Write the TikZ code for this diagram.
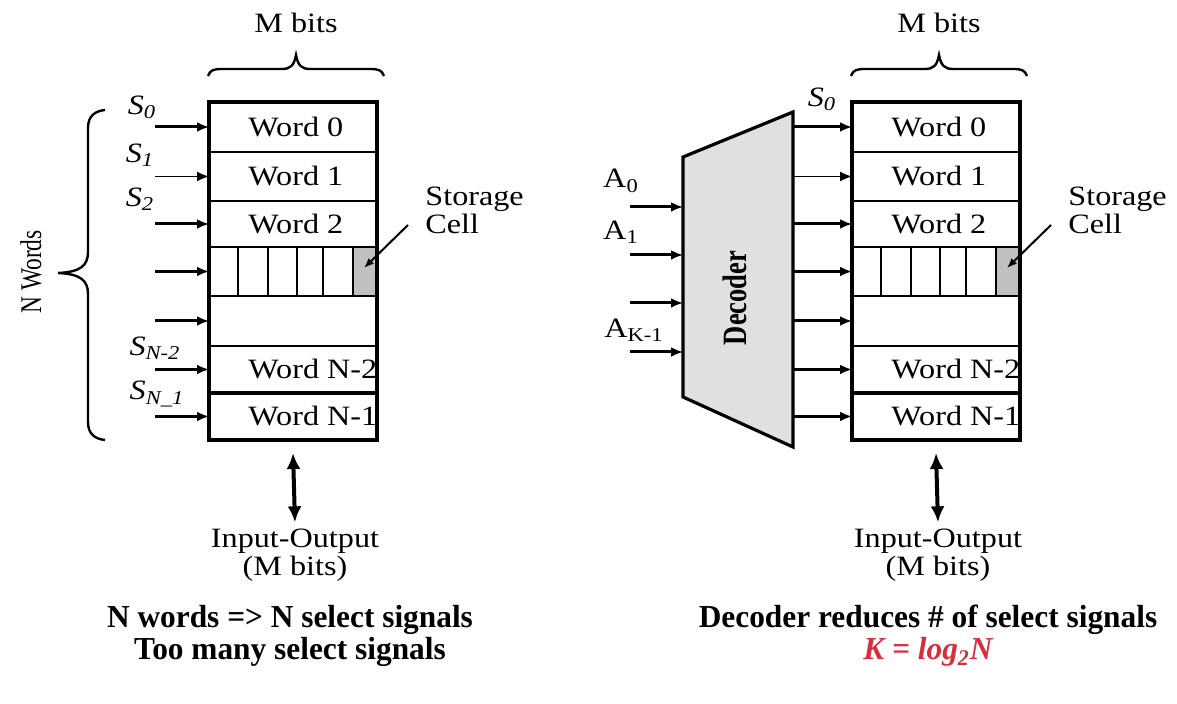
\documentclass[tikz,border=0pt]{standalone}
\usepackage{fontspec}
\setmainfont{Liberation Serif}
\newfontfamily\lab[FakeStretch=1.15]{Liberation Serif}
\newfontfamily\labrot[FakeStretch=0.78]{Liberation Serif}
\newfontfamily\labbot[FakeStretch=0.98]{Liberation Serif}
\usetikzlibrary{arrows.meta}
\definecolor{decgray}{RGB}{224,224,224}
\definecolor{cellgray}{RGB}{192,192,192}
\definecolor{kred}{RGB}{215,45,60}
\begin{document}
\begin{tikzpicture}[x=0.5pt,y=-0.5pt,
  lbl/.style={font=\lab\fontsize{14}{14}\selectfont, inner sep=0pt},
  slbl/.style={lbl, font=\lab\itshape\fontsize{14}{14}\selectfont},
  rowbox/.style={draw, line width=1.3pt, inner sep=0pt, outer sep=0pt, minimum width=84pt},
  sel/.style={line width=1.5pt, -{Latex[length=6pt,width=5pt]}},
  selthin/.style={line width=0.7pt, -{Latex[length=6pt,width=5pt]}},
  io/.style={line width=2pt, {Latex[length=8pt,width=7pt]}-{Latex[length=8pt,width=7pt]}},
  brc/.style={line width=1.2pt},
  ptr/.style={line width=1pt, -{Latex[length=5pt,width=4pt]}},
  bottxt/.style={font=\labbot\bfseries\fontsize{16}{16}\selectfont, align=center, inner sep=0pt},
]
\useasboundingbox (0,0) rectangle (1177,704);

% ---- memory blocks ----
\foreach \p/\L in {L/209,R/852}{
  \fill[cellgray] ({\L+144},247) rectangle ({\L+168},296);
  \foreach \i/\t/\b in {0/102/152,1/152/201,2/201/247,3/247/296,4/296/346,5/346/393,6/393/440}{
    \node[rowbox, minimum height={(\b-\t)*0.5pt}] (\p\i) at ({\L+84},{(\t+\b)/2}) {};
  }
  \node[lbl,anchor=west] (\p w0) at ({\L+39},127) {Word 0};
  \node[lbl,anchor=west] (\p w1) at ({\L+39},176.5) {Word 1};
  \node[lbl,anchor=west] (\p w2) at ({\L+39},224) {Word 2};
  \node[lbl,anchor=west] (\p w5) at ({\L+39},369.5) {Word N-2};
  \node[lbl,anchor=west] (\p w6) at ({\L+39},416.5) {Word N-1};
  \foreach \dx in {29,59,88,114,144} \draw[line width=1.2pt] ({\L+\dx},247) -- ({\L+\dx},296);
  \draw[line width=2pt] (\p5.south west) -- (\p5.south east);
  \draw[line width=2.2pt] (\p0.north west) rectangle (\p6.south east);
  % storage cell label
  \node[lbl, align=left, anchor=north west] (\p sc) at ({\L+216},187) {Storage\\Cell};
  \coordinate (\p scp) at ({\L+199},225);
  \coordinate (\p cell) at ({\L+155},268);
  \draw[ptr] (\p scp) -- (\p cell);
  % M bits brace
  \draw[brc] ({\L-1},76) .. controls ({\L+1},70) and ({\L+5},69) .. ({\L+13},69) -- ({\L+73},69)
     .. controls ({\L+81},69) and ({\L+85},66) .. ({\L+87},55)
     .. controls ({\L+89},66) and ({\L+93},69) .. ({\L+101},69) -- ({\L+161},69)
     .. controls ({\L+169},69) and ({\L+173},70) .. ({\L+175},76);
  \node[lbl] (\p mb) at ({\L+87},23) {M bits};
  % input-output
  \node[lbl, align=center] (\p io) at ({\L+86},555) {Input-Output\\(M bits)};
  \draw[io] ([yshift=-6.5pt]\p6.south) -- ([yshift=3pt]\p io.north);
}

% ---- left select lines ----
\foreach \i/\y in {0/127,1/176.5,2/224,3/271.5,4/321,5/369.5,6/416.5}{
  \coordinate (s\i) at (155,\y);
}
\foreach \i in {0,2,3,4,5,6} \draw[sel] (s\i) -- (L\i.west);
\draw[selthin] (s1) -- (L1.west);
\node[slbl] (ls0) at (142,107) {S\textsubscript{0}};
\node[slbl] (ls1) at (140,155) {S\textsubscript{1}};
\node[slbl] (ls2) at (140,199) {S\textsubscript{2}};
\node[slbl] (ls5) at (155,348) {S\textsubscript{N-2}};
\node[slbl] (ls6) at (157,394) {S\textsubscript{N\_1}};

% N words brace
\draw[brc] (105,110) .. controls (95,111) and (88,116) .. (88,128) -- (88,252)
  .. controls (88,266) and (80,272) .. (58,273)
  .. controls (80,274) and (88,280) .. (88,294) -- (88,422)
  .. controls (88,434) and (95,439) .. (105,440);
\node[font=\labrot\fontsize{15}{15}\selectfont, rotate=90, inner sep=0pt] (nw) at (31,272) {N Words};

% ---- decoder ----
\draw[line width=1.6pt, fill=decgray] (683,157) -- (793,112) -- (793,447) -- (683,397) -- cycle;
\node[font=\labrot\bfseries\fontsize{17}{18}\selectfont, rotate=90, inner sep=0pt] (dec) at (735,298) {Decoder};
\foreach \i/\y in {0/207,1/255,2/303,3/352}{
  \coordinate (a\i) at (630,\y);
  \coordinate (ai\i) at (683,\y);
  \draw[sel] (a\i) -- (ai\i);
}
\node[lbl] (la0) at (621,181) {A\textsubscript{0}};
\node[lbl] (la1) at (621,232) {A\textsubscript{1}};
\node[lbl] (la3) at (634,330) {A\textsubscript{K-1}};
\foreach \i/\y in {0/127,1/176.5,2/224,3/271.5,4/321,5/369.5,6/416.5}{
  \coordinate (d\i) at (793,\y);
}
\foreach \i in {0,2,3,4,5,6} \draw[sel] (d\i) -- (R\i.west);
\draw[selthin] (d1) -- (R1.west);
\node[slbl] (rs0) at (822,99) {S\textsubscript{0}};

% ---- bottom captions ----
\node[bottxt] (capL) at (290,636) {N words => N select signals\\Too many select signals};
\node[bottxt] (capR) at (928,636) {Decoder reduces \# of select signals\\\textcolor{kred}{\itshape K = log\textsubscript{2}N}};
\end{tikzpicture}
\end{document}
